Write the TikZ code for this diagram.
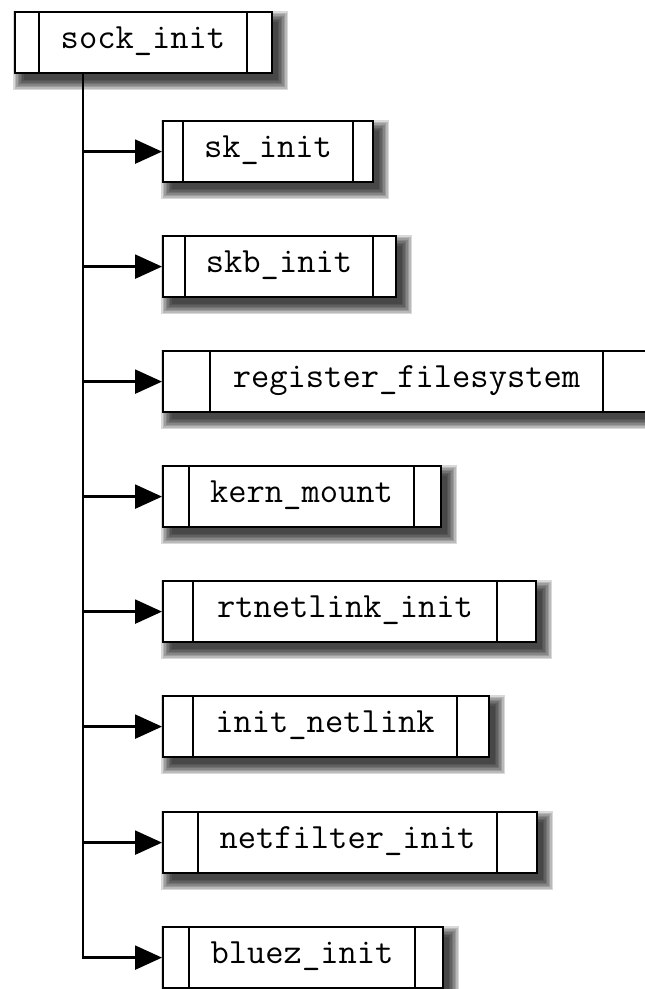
\documentclass[tikz,border=0pt]{standalone}
\usetikzlibrary{arrows.meta}
\begin{document}
\begin{tikzpicture}[x=1pt,y=-1pt,
  frame/.style={draw=black, line width=2.2pt, fill=white, rectangle, inner sep=0pt, anchor=north west},
  sep/.style={draw=black, line width=2.2pt},
  label/.style={font=\fontsize{35.5}{40}\selectfont\ttfamily, inner sep=0pt, anchor=base},
  link/.style={line width=2.4pt, -{Triangle[length=27pt,width=24pt]}},
  shade/.style={fill=black, fill opacity=0.15}]
\useasboundingbox (0,0) rectangle (645,989);
\def\boxes{sock/14/39/247/271/11/sock\_init,
  sk/162/183/353/372/120/sk\_init,
  skb/162/185/373/395/235/skb\_init,
  reg/162/210/603/650/350/register\_filesystem,
  kern/162/189/414/440/465/kern\_mount,
  rtn/162/193/497/535/580/rtnetlink\_init,
  initn/162/193/457/488/695/init\_netlink,
  netf/162/198/497/536/811/netfilter\_init,
  bluez/162/189/415/442/926/bluez\_init}
% shadows
\foreach \n/\a/\b/\c/\d/\t/\s in \boxes {
  \foreach \r in {9,7.5,6,4.5,3,1.5,0,-1.5} {
    \fill[shade] (\a+8-\r,\t+9-\r) rectangle (\d+8+\r,\t+61+9+\r);
  }
}
% boxes
\foreach \n/\a/\b/\c/\d/\t/\s in \boxes {
  \node[frame, minimum width=\d-\a, minimum height=61] (\n) at (\a,\t) {};
  \draw[sep] (\b,\t) -- (\b,\t+61);
  \draw[sep] (\c,\t) -- (\c,\t+61);
  \node[label] (\n-txt) at ({(\b+\c)/2},\t+37) {\s};
}
% connectors
\coordinate (trunk) at (83,72);
\draw[link] (trunk) |- (bluez.west);
\foreach \n in {sk,skb,reg,kern,rtn,initn,netf} {
  \draw[link] (trunk |- \n.west) -- (\n.west);
}
\end{tikzpicture}
\end{document}
